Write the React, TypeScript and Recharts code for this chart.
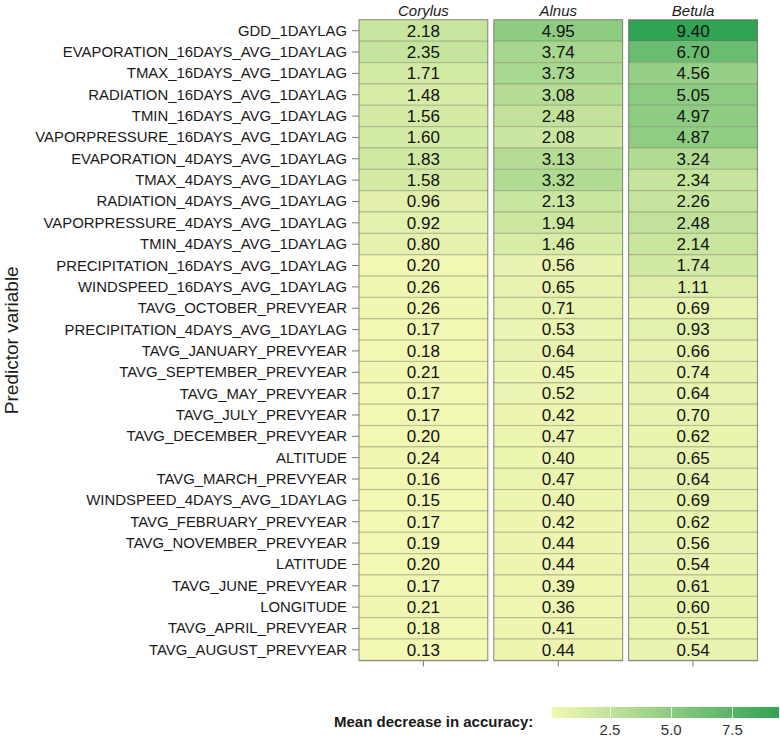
import { Bar, BarChart, Cell, LabelList, ReferenceArea, XAxis, YAxis } from 'recharts';

const species = ['Corylus', 'Alnus', 'Betula'];

const predictors = [
  'GDD_1DAYLAG',
  'EVAPORATION_16DAYS_AVG_1DAYLAG',
  'TMAX_16DAYS_AVG_1DAYLAG',
  'RADIATION_16DAYS_AVG_1DAYLAG',
  'TMIN_16DAYS_AVG_1DAYLAG',
  'VAPORPRESSURE_16DAYS_AVG_1DAYLAG',
  'EVAPORATION_4DAYS_AVG_1DAYLAG',
  'TMAX_4DAYS_AVG_1DAYLAG',
  'RADIATION_4DAYS_AVG_1DAYLAG',
  'VAPORPRESSURE_4DAYS_AVG_1DAYLAG',
  'TMIN_4DAYS_AVG_1DAYLAG',
  'PRECIPITATION_16DAYS_AVG_1DAYLAG',
  'WINDSPEED_16DAYS_AVG_1DAYLAG',
  'TAVG_OCTOBER_PREVYEAR',
  'PRECIPITATION_4DAYS_AVG_1DAYLAG',
  'TAVG_JANUARY_PREVYEAR',
  'TAVG_SEPTEMBER_PREVYEAR',
  'TAVG_MAY_PREVYEAR',
  'TAVG_JULY_PREVYEAR',
  'TAVG_DECEMBER_PREVYEAR',
  'ALTITUDE',
  'TAVG_MARCH_PREVYEAR',
  'WINDSPEED_4DAYS_AVG_1DAYLAG',
  'TAVG_FEBRUARY_PREVYEAR',
  'TAVG_NOVEMBER_PREVYEAR',
  'LATITUDE',
  'TAVG_JUNE_PREVYEAR',
  'LONGITUDE',
  'TAVG_APRIL_PREVYEAR',
  'TAVG_AUGUST_PREVYEAR',
];

const corylus = [2.18, 2.35, 1.71, 1.48, 1.56, 1.6, 1.83, 1.58, 0.96, 0.92, 0.8, 0.2, 0.26, 0.26, 0.17, 0.18, 0.21, 0.17, 0.17, 0.2, 0.24, 0.16, 0.15, 0.17, 0.19, 0.2, 0.17, 0.21, 0.18, 0.13];
const alnus = [4.95, 3.74, 3.73, 3.08, 2.48, 2.08, 3.13, 3.32, 2.13, 1.94, 1.46, 0.56, 0.65, 0.71, 0.53, 0.64, 0.45, 0.52, 0.42, 0.47, 0.4, 0.47, 0.4, 0.42, 0.44, 0.44, 0.39, 0.36, 0.41, 0.44];
const betula = [9.4, 6.7, 4.56, 5.05, 4.97, 4.87, 3.24, 2.34, 2.26, 2.48, 2.14, 1.74, 1.11, 0.69, 0.93, 0.66, 0.74, 0.64, 0.7, 0.62, 0.65, 0.64, 0.69, 0.62, 0.56, 0.54, 0.61, 0.6, 0.51, 0.54];

const legendTicks = [2.5, 5.0, 7.5];

const rows = predictors.map((predictor, i) => ({
  predictor,
  Corylus: corylus[i],
  Alnus: alnus[i],
  Betula: betula[i],
}));

const allValues = [...corylus, ...alnus, ...betula];
const minVal = Math.min(...allValues);
const maxVal = Math.max(...allValues);

const LOW = [243, 248, 180];
const HIGH = [49, 163, 84];

function colorFor(v: number) {
  const t = (v - minVal) / (maxVal - minVal);
  const c = LOW.map((l, k) => Math.round(l + (HIGH[k] - l) * t));
  return `rgb(${c[0]},${c[1]},${c[2]})`;
}

const FONT = '"Liberation Sans", Arial, Helvetica, sans-serif';
const INSET = 3.25;

function TileShape(props: any) {
  const { x, y, width, height, fill } = props;
  return (
    <rect
      x={x + INSET}
      y={y}
      width={width - INSET * 2}
      height={height}
      fill={fill}
      stroke="rgba(90,90,60,0.35)"
      strokeWidth={0.8}
    />
  );
}

function PanelFrame(props: any) {
  const { x, y, width, height } = props;
  return (
    <rect
      x={x + INSET}
      y={y}
      width={width - INSET * 2}
      height={height}
      fill="none"
      stroke="#8a8a8a"
      strokeWidth={1.5}
    />
  );
}

function PredictorTick(props: any) {
  const { x, y, payload } = props;
  return (
    <g>
      <line x1={x - 4} x2={x + 3} y1={y} y2={y} stroke="#7a7a7a" strokeWidth={1} />
      <text
        x={x - 9}
        y={y}
        textAnchor="end"
        dominantBaseline="central"
        fontSize={14.9}
        fontFamily={FONT}
        fill="#1a1a1a"
      >
        {payload.value}
      </text>
    </g>
  );
}

const LEG_X = 552;
const LEG_W = 227;

export default function App() {
  return (
    <div style={{ position: 'relative', width: 780, height: 737, fontFamily: FONT, background: '#fff' }}>
      <style>{'body{margin:0}'}</style>
      <BarChart
        width={780}
        height={680}
        data={rows}
        layout="vertical"
        barCategoryGap={0}
        margin={{ top: 0, right: 19.5, bottom: 0, left: 0 }}
      >
        <XAxis
          xAxisId="titles"
          orientation="top"
          type="number"
          domain={[0, 3]}
          ticks={[0.5, 1.5, 2.5]}
          tickFormatter={(v: number) => species[Math.floor(v)]}
          height={20}
          axisLine={false}
          tickLine={false}
          tickSize={0}
          tickMargin={4}
          tick={{ fontSize: 15, fontStyle: 'italic', fill: '#1a1a1a', fontFamily: FONT }}
          allowDataOverflow
        />
        <XAxis
          xAxisId="cells"
          orientation="bottom"
          type="number"
          domain={[0, 3]}
          ticks={[0.5, 1.5, 2.5]}
          tickFormatter={() => ''}
          height={19.5}
          axisLine={false}
          tickLine={{ stroke: '#7a7a7a' }}
          tickSize={6}
          allowDataOverflow
        />
        <YAxis
          type="category"
          dataKey="predictor"
          width={356}
          interval={0}
          axisLine={false}
          tickLine={false}
          tickSize={0}
          tickMargin={0}
          tick={<PredictorTick />}
          label={{
            value: 'Predictor variable',
            angle: -90,
            position: 'insideLeft',
            offset: 11,
            style: { textAnchor: 'middle', fontSize: 19, fill: '#1a1a1a', fontFamily: FONT },
          }}
        />
        {species.map((s) => (
          <Bar
            key={s}
            dataKey={() => 1}
            name={s}
            stackId="tiles"
            xAxisId="cells"
            shape={TileShape}
            isAnimationActive={false}
          >
            {rows.map((r: any, i) => (
              <Cell key={i} fill={colorFor(r[s])} />
            ))}
            <LabelList
              dataKey={s}
              position="center"
              formatter={(v: any) => Number(v).toFixed(2)}
              style={{ fontSize: 17, fill: '#111', fontFamily: FONT }}
            />
          </Bar>
        ))}
        {species.map((s, i) => (
          <ReferenceArea
            key={s}
            xAxisId="cells"
            x1={i}
            x2={i + 1}
            y1={predictors[0]}
            y2={predictors[predictors.length - 1]}
            shape={PanelFrame}
            ifOverflow="visible"
          />
        ))}
      </BarChart>

      <div
        style={{
          position: 'absolute',
          left: 334,
          top: 713,
          width: 200,
          fontSize: 15,
          fontWeight: 'bold',
          color: '#1a1a1a',
          lineHeight: '18px',
          whiteSpace: 'nowrap',
        }}
      >
        Mean decrease in accuracy:
      </div>
      <div
        style={{
          position: 'absolute',
          left: LEG_X,
          top: 707,
          width: LEG_W,
          height: 11,
          background: `linear-gradient(to right, ${colorFor(minVal)}, ${colorFor(maxVal)})`,
        }}
      >
        {legendTicks.map((t) => (
          <div
            key={t}
            style={{
              position: 'absolute',
              left: ((t - minVal) / (maxVal - minVal)) * LEG_W - 0.5,
              top: 0,
              width: 1,
              height: 11,
              background: 'rgba(255,255,255,0.8)',
            }}
          />
        ))}
      </div>
      {legendTicks.map((t) => (
        <div
          key={t}
          style={{
            position: 'absolute',
            left: LEG_X + ((t - minVal) / (maxVal - minVal)) * LEG_W - 20,
            top: 722,
            width: 40,
            textAlign: 'center',
            fontSize: 15,
            color: '#333',
            lineHeight: '15px',
          }}
        >
          {t.toFixed(1)}
        </div>
      ))}
    </div>
  );
}
